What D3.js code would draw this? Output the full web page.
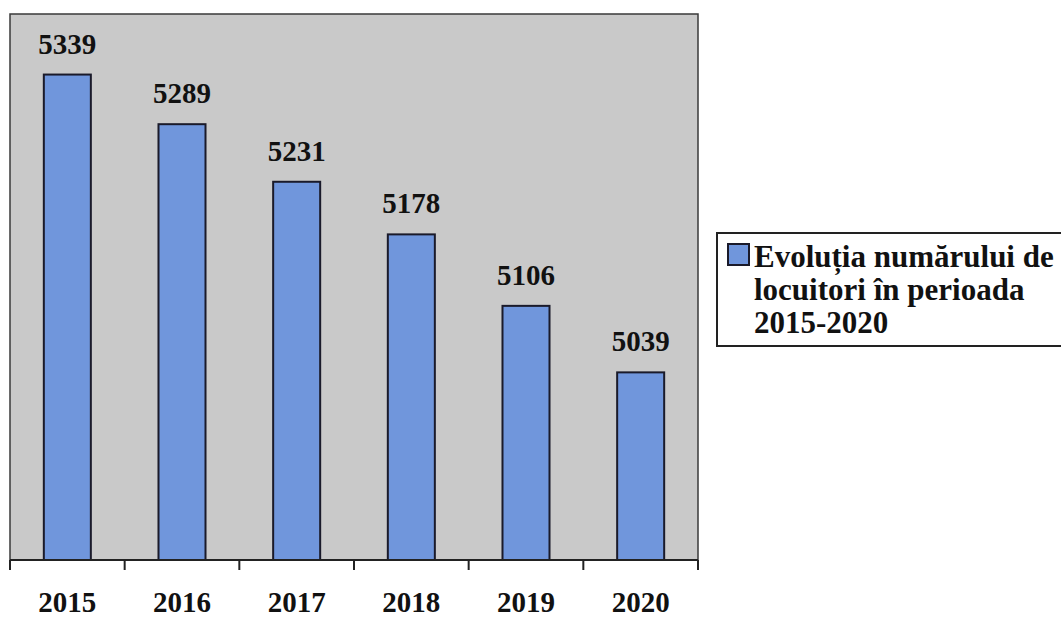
<!DOCTYPE html>
<html>
<head>
<meta charset="utf-8">
<script src="https://cdn.jsdelivr.net/npm/d3@7"></script>
<style>
  html, body { margin: 0; padding: 0; background: #fff; }
  svg { display: block; }
  text { font-family: "Liberation Serif", "Times New Roman", serif; font-weight: bold; fill: #111; }
</style>
</head>
<body>
<svg id="chart" width="1061" height="619"></svg>
<script>
const years = ["2015", "2016", "2017", "2018", "2019", "2020"];
const values = [5339, 5289, 5231, 5178, 5106, 5039];
const legendLines = ["Evoluția numărului de", "locuitori în perioada", "2015-2020"];

const svg = d3.select("#chart");
const plot = { left: 10, top: 14, right: 698, bottom: 560 };

const x = d3.scaleBand().domain(years).range([plot.left, plot.right]).padding(0);
const y = d3.scaleLinear().domain([4850, 5400]).range([plot.bottom, plot.top]);
const bw = x.bandwidth() * 0.41;

// plot area
svg.append("rect")
  .attr("x", plot.left).attr("y", plot.top)
  .attr("width", plot.right - plot.left).attr("height", plot.bottom - plot.top)
  .attr("fill", "#c9c9c9").attr("stroke", "#3a3a3a").attr("stroke-width", 1.5);

// bars
svg.selectAll("rect.bar").data(years).enter().append("rect")
  .attr("class", "bar")
  .attr("x", d => x(d) + (x.bandwidth() - bw) / 2)
  .attr("y", (d, i) => y(values[i]))
  .attr("width", bw)
  .attr("height", (d, i) => plot.bottom - y(values[i]))
  .attr("fill", "#7096dc")
  .attr("stroke", "#1a1a2a").attr("stroke-width", 2);

// value labels
svg.selectAll("text.val").data(years).enter().append("text")
  .attr("class", "val")
  .attr("x", d => x(d) + x.bandwidth() / 2)
  .attr("y", (d, i) => y(values[i]) - 21)
  .attr("text-anchor", "middle")
  .attr("font-size", 29)
  .text((d, i) => values[i]);

// x axis
const axis = svg.append("g").attr("transform", `translate(0,${plot.bottom})`);
axis.append("line").attr("x1", plot.left).attr("x2", plot.right)
  .attr("y1", 0).attr("y2", 0).attr("stroke", "#222").attr("stroke-width", 2);
const tickXs = years.map(d => x(d)).concat([plot.right]);
axis.selectAll("line.tick").data(tickXs).enter().append("line")
  .attr("class", "tick")
  .attr("x1", d => d).attr("x2", d => d)
  .attr("y1", 0).attr("y2", 10)
  .attr("stroke", "#222").attr("stroke-width", 2);
axis.selectAll("text.cat").data(years).enter().append("text")
  .attr("class", "cat")
  .attr("x", d => x(d) + x.bandwidth() / 2)
  .attr("y", 52)
  .attr("text-anchor", "middle")
  .attr("font-size", 29)
  .text(d => d);

// legend
const lg = svg.append("g");
lg.append("rect").attr("x", 717).attr("y", 233).attr("width", 360).attr("height", 113)
  .attr("fill", "#fff").attr("stroke", "#222").attr("stroke-width", 2);
lg.append("rect").attr("x", 728).attr("y", 244).attr("width", 21).attr("height", 21)
  .attr("fill", "#7096dc").attr("stroke", "#1a1a2a").attr("stroke-width", 2);
lg.selectAll("text.lg").data(legendLines).enter().append("text")
  .attr("class", "lg")
  .attr("x", 754)
  .attr("y", (d, i) => 267 + i * 33)
  .attr("font-size", 31)
  .text(d => d);
</script>
</body>
</html>
